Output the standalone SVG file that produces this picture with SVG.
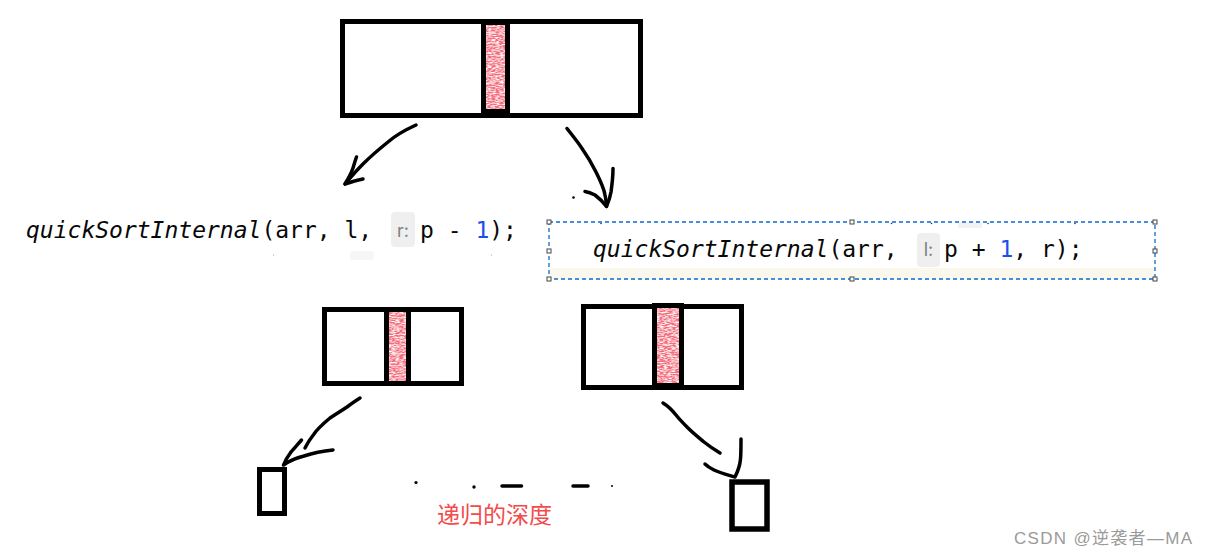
<svg xmlns="http://www.w3.org/2000/svg" width="1208" height="555" viewBox="0 0 1208 555">
  <defs>
    <filter id="grain" x="0" y="0" width="1" height="1">
      <feTurbulence type="fractalNoise" baseFrequency="0.25 0.9" numOctaves="2" seed="4" result="n"/>
      <feColorMatrix in="n" type="matrix" values="0 0 0 0 0.92  0 0 0 0 0.15  0 0 0 0 0.21  0 0 0 2.6 -0.6" result="r"/>
      <feFlood flood-color="#ffffff" result="w"/>
      <feMerge result="m"><feMergeNode in="w"/><feMergeNode in="r"/></feMerge>
      <feComposite in="m" in2="SourceAlpha" operator="in"/>
    </filter>
    <style>
      .box { fill: #ffffff; stroke: #000000; }
      .bar { fill: #000000; }
      .red { fill: #e8303c; filter: url(#grain); }
      .ink { fill: none; stroke: #000000; stroke-width: 3.5; stroke-linecap: round; stroke-linejoin: round; }
      .code { font-family: "DejaVu Sans Mono", "Liberation Mono", monospace; font-size: 23px; fill: #080808; }
      .fn { font-style: italic; }
      .num { fill: #1750eb; }
      .hintbg { fill: #efefef; }
      .hint { font-family: "Inter", "Liberation Sans", sans-serif; font-size: 18px; fill: #7f7f7f; }
      .handle { fill: #ffffff; stroke: #444444; stroke-width: 1; }
    </style>
  </defs>

  <rect x="0" y="0" width="1208" height="555" fill="#ffffff"/>

  <g id="top-array">
    <rect class="box" x="342.5" y="21.5" width="298" height="94" stroke-width="5"/>
    <rect class="bar" x="481" y="21" width="29" height="95"/>
    <rect class="red" x="486" y="25" width="19" height="84"/>
  </g>

  <g id="code-left">
    <rect fill="#f6f6f6" x="350" y="251" width="24" height="9" rx="3"/>
    <circle cx="273.5" cy="255" r="0.7" fill="#bbbbbb"/>
    <circle cx="491.5" cy="255" r="0.7" fill="#bbbbbb"/>
    <text class="code" x="26" y="238"><tspan class="fn">quickSortInternal</tspan>(arr, l, </text>
    <rect class="hintbg" x="391" y="212" width="24" height="35" rx="4"/>
    <text class="hint" x="403" y="237" text-anchor="middle">r:</text>
    <text class="code" x="420" y="238">p - <tspan class="num">1</tspan>);</text>
  </g>

  <g id="code-right">
    <rect fill="#faf7ec" x="550" y="268" width="604" height="11"/>
    <rect fill="#f3f3f3" x="958" y="222" width="24" height="6"/>
    <circle cx="601" cy="223.5" r="0.8" fill="#333333"/>
    <circle cx="891.5" cy="223.5" r="0.8" fill="#333333"/>
    <circle cx="931.5" cy="223.5" r="0.8" fill="#333333"/>
    <circle cx="988" cy="223.5" r="0.8" fill="#333333"/>
    <circle cx="1075" cy="223.5" r="0.8" fill="#333333"/>
    <rect x="549" y="222" width="606" height="57" fill="none" stroke="#0a6ad0" stroke-width="1.3" stroke-dasharray="4 3"/>
    <rect class="handle" x="547" y="220" width="4" height="4"/>
    <rect class="handle" x="850" y="220" width="4" height="4"/>
    <rect class="handle" x="1153" y="220" width="4" height="4"/>
    <rect class="handle" x="547" y="249" width="4" height="4"/>
    <rect class="handle" x="1153" y="249" width="4" height="4"/>
    <rect class="handle" x="547" y="277" width="4" height="4"/>
    <rect class="handle" x="850" y="277" width="4" height="4"/>
    <rect class="handle" x="1153" y="277" width="4" height="4"/>
    <text class="code" x="593" y="257"><tspan class="fn">quickSortInternal</tspan>(arr, </text>
    <rect class="hintbg" x="917" y="233" width="23" height="34" rx="4"/>
    <text class="hint" x="928.5" y="256" text-anchor="middle">l:</text>
    <text class="code" x="944" y="257">p + <tspan class="num">1</tspan>, r);</text>
  </g>

  <g id="left-array">
    <rect class="box" x="324.5" y="309.5" width="137" height="74" stroke-width="5"/>
    <rect class="bar" x="384" y="309" width="27" height="75"/>
    <rect class="red" x="389" y="312" width="17" height="69"/>
  </g>

  <g id="right-array">
    <rect class="box" x="583.5" y="306.5" width="158" height="81" stroke-width="5"/>
    <rect class="bar" x="652" y="303" width="32" height="87"/>
    <rect class="red" x="657" y="308" width="22" height="75"/>
  </g>

  <g id="leaf-left">
    <rect class="box" x="259.5" y="469.5" width="25" height="44" stroke-width="5"/>
  </g>

  <g id="leaf-right">
    <rect class="box" x="732" y="482" width="35" height="47" stroke-width="5.5"/>
  </g>

  <g id="connectors">
    <path class="ink" d="M416,125 C405,130 396,135 388,142 C378,150 370,157 363,164 C356,171 350,178 345,184"/>
    <path class="ink" d="M356.5,157 C355,161 354,165 353,168 C351,174 348,179 345,184 C351,182 357,180 363,179"/>
    <path class="ink" d="M567,128.5 C572,135 578,142 583,150 C588,157 592,164 596,172 C600,180 604,188 605,195 C606,200 606.5,204 606.5,206.5"/>
    <path class="ink" d="M613,168.5 C613,176 612,185 611,192 C610,198 608,203 606.5,206.5 C603,202 599,198 595,195 C591,193 588,192 585,191.5"/>
    <circle cx="573.5" cy="197.5" r="1.3" fill="#000"/>
    <path class="ink" d="M360,398 C355,401 351,404 347,407 C341,411 336,414 330,418 C324,423 318,428 314,434 C310,439 307,444 305,448"/>
    <path class="ink" d="M301.5,440 C298,444 294,449 291,452 C288,456 285,461 283.5,465 C289,461 296,458 304,456 C313,453 323,451 333,450"/>
    <path class="ink" d="M663,403 C668,406 672,410 676,415 C680,420 684,424 688,428 C693,433 698,437 704,442 C709,446 715,450 720,453"/>
    <path class="ink" d="M741,439 C741,446 741,453 740.5,459 C740,465 738,471 735,477 C728,475 720,473 714,470 C710,468 707,466 705,464"/>
    <circle cx="416" cy="482.5" r="1.6" fill="#000"/>
    <circle cx="474" cy="487" r="1.7" fill="#000"/>
    <line x1="502" y1="486" x2="521.5" y2="486" stroke="#000" stroke-width="3.5" stroke-linecap="round"/>
    <line x1="573" y1="486" x2="588" y2="486" stroke="#000" stroke-width="3.5" stroke-linecap="round"/>
    <circle cx="612" cy="486" r="1" fill="#000"/>
  </g>

  <g id="depth-label">
    <text x="437" y="523" font-family="'Noto Sans CJK SC', sans-serif" font-size="23" fill="#f34b4b">递归的深度</text>
  </g>

  <g id="watermark">
    <text x="1014" y="544" font-family="'Liberation Sans', 'Noto Sans CJK SC', sans-serif" font-size="17" fill="#9a9a9a" textLength="178" lengthAdjust="spacing">CSDN @逆袭者—MA</text>
  </g>
</svg>
